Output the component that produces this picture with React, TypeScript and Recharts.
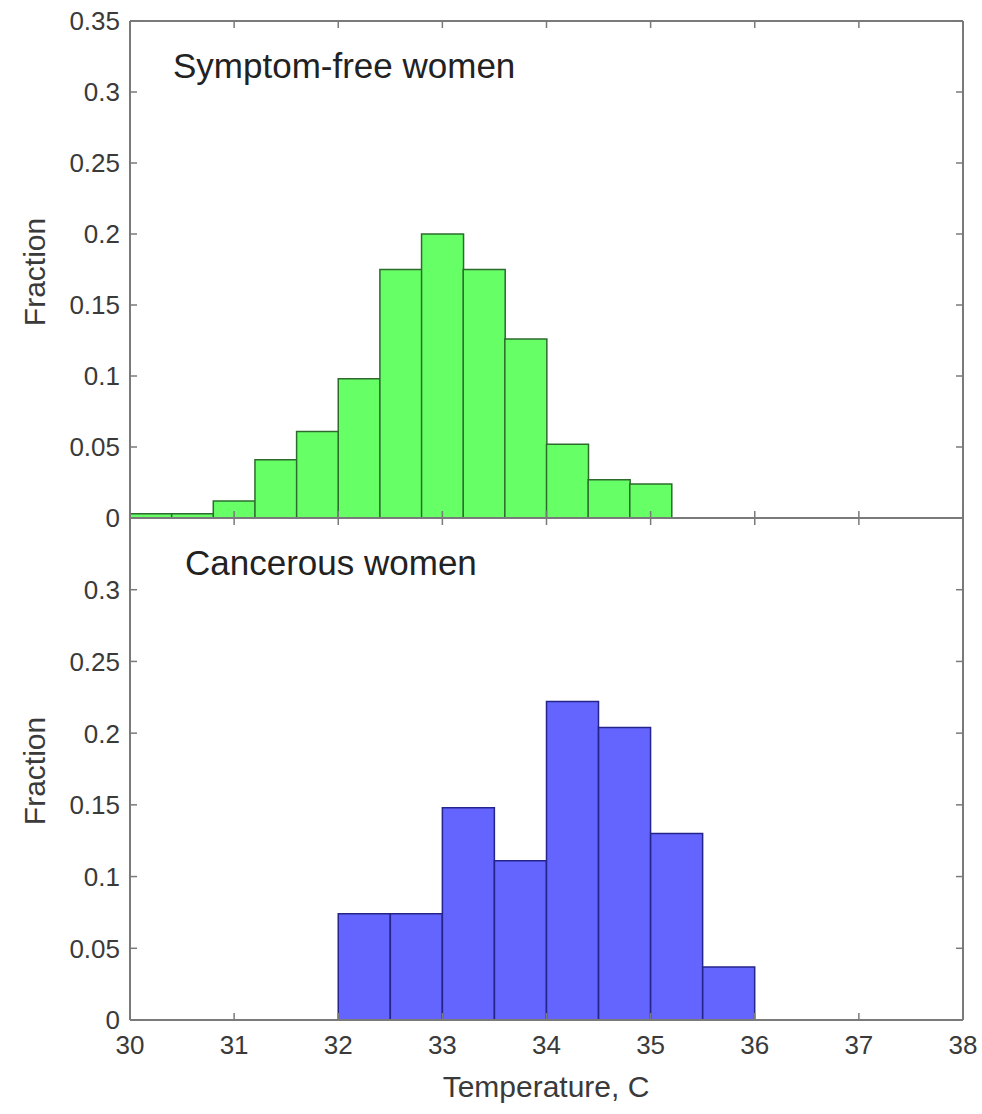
import React from 'react';
import { ComposedChart, Bar, XAxis, YAxis } from 'recharts';

const FONT = '"Liberation Sans", Arial, Helvetica, sans-serif';

// Tick values
const xTicks = [30, 31, 32, 33, 34, 35, 36, 37, 38];
const topYTicks = [0, 0.05, 0.1, 0.15, 0.2, 0.25, 0.3, 0.35];
const bottomYTicks = [0, 0.05, 0.1, 0.15, 0.2, 0.25, 0.3];

// Symptom-free women: bins of 0.4 C from 30 to 38
const greenBinStarts = [30.0, 30.4, 30.8, 31.2, 31.6, 32.0, 32.4, 32.8, 33.2, 33.6, 34.0, 34.4, 34.8, 35.2, 35.6, 36.0, 36.4, 36.8, 37.2, 37.6];
const greenFraction = [0.003, 0.003, 0.012, 0.041, 0.061, 0.098, 0.175, 0.2, 0.175, 0.126, 0.052, 0.027, 0.024, 0, 0, 0, 0, 0, 0, 0];

// Cancerous women: bins of 0.5 C from 30 to 38
const blueBinStarts = [30.0, 30.5, 31.0, 31.5, 32.0, 32.5, 33.0, 33.5, 34.0, 34.5, 35.0, 35.5, 36.0, 36.5, 37.0, 37.5];
const blueFraction = [0, 0, 0, 0, 0.074, 0.074, 0.148, 0.111, 0.222, 0.204, 0.13, 0.037, 0, 0, 0, 0];

const greenData = greenBinStarts.map((s, i) => ({ bin: s.toFixed(1), start: s, fraction: greenFraction[i] }));
const blueData = blueBinStarts.map((s, i) => ({ bin: s.toFixed(1), start: s, fraction: blueFraction[i] }));

const AXIS = '#7a7a7a';
const TEXT = '#3a3a3a';
const TICK_LEN = 7;
const TICK_FONT = 26;
const Y_GAP = 10;
const X_GAP = 16;

const LeftTick = (props: any) => {
  const { x, y, payload } = props;
  return (
    <g>
      <line x1={x + Y_GAP} x2={x + Y_GAP + TICK_LEN} y1={y} y2={y} stroke={AXIS} strokeWidth={1.5} />
      <text x={x} y={y} dy="0.36em" textAnchor="end" fill={TEXT} fontSize={TICK_FONT} fontFamily={FONT}>
        {String(payload.value)}
      </text>
    </g>
  );
};

const RightTick = (props: any) => {
  const { x, y } = props;
  return <line x1={x - TICK_LEN} x2={x} y1={y} y2={y} stroke={AXIS} strokeWidth={1.5} />;
};

const TopTick = (props: any) => {
  const { x, y } = props;
  return <line x1={x} x2={x} y1={y} y2={y + TICK_LEN} stroke={AXIS} strokeWidth={1.5} />;
};

const BottomTickLine = (props: any) => {
  const { x, y } = props;
  return <line x1={x} x2={x} y1={y - X_GAP} y2={y - X_GAP - TICK_LEN} stroke={AXIS} strokeWidth={1.5} />;
};

const BottomTickLabel = (props: any) => {
  const { x, y, payload } = props;
  return (
    <g>
      <line x1={x} x2={x} y1={y - X_GAP} y2={y - X_GAP - TICK_LEN} stroke={AXIS} strokeWidth={1.5} />
      <text x={x} y={y} dy="0.71em" textAnchor="middle" fill={TEXT} fontSize={TICK_FONT} fontFamily={FONT}>
        {String(payload.value)}
      </text>
    </g>
  );
};

type PanelProps = {
  data: { bin: string; start: number; fraction: number }[];
  fill: string;
  stroke: string;
  yTicks: number[];
  bottomLabels: boolean;
  height: number;
  margin: { top: number; right: number; bottom: number; left: number };
};

function Panel({ data, fill, stroke, yTicks, bottomLabels, height, margin }: PanelProps) {
  return (
    <ComposedChart width={982} height={height} data={data} margin={margin} barCategoryGap={0} barGap={0}>
      <XAxis xAxisId="cat" dataKey="bin" type="category" hide />
      <XAxis
        xAxisId="bottom"
        dataKey="start"
        type="number"
        domain={[30, 38]}
        allowDataOverflow
        ticks={xTicks}
        interval={0}
        orientation="bottom"
        height={bottomLabels ? 90 : 1}
        tickSize={0}
        tickMargin={bottomLabels ? X_GAP : X_GAP}
        tickLine={false}
        tick={bottomLabels ? <BottomTickLabel /> : <BottomTickLine />}
        axisLine={{ stroke: AXIS, strokeWidth: 2 }}
      />
      <XAxis
        xAxisId="top"
        dataKey="start"
        type="number"
        domain={[30, 38]}
        allowDataOverflow
        ticks={xTicks}
        interval={0}
        orientation="top"
        height={1}
        tickSize={0}
        tickMargin={0}
        tickLine={false}
        tick={<TopTick />}
        axisLine={{ stroke: AXIS, strokeWidth: 2 }}
      />
      <YAxis
        type="number"
        domain={[0, 0.35]}
        allowDataOverflow
        ticks={yTicks}
        interval={0}
        width={110}
        tickSize={0}
        tickMargin={Y_GAP}
        tickLine={false}
        tick={<LeftTick />}
        axisLine={{ stroke: AXIS, strokeWidth: 2 }}
      />
      <YAxis
        yAxisId="r"
        orientation="right"
        type="number"
        domain={[0, 0.35]}
        allowDataOverflow
        ticks={yTicks}
        interval={0}
        width={1}
        tickSize={0}
        tickMargin={0}
        tickLine={false}
        tick={<RightTick />}
        axisLine={{ stroke: AXIS, strokeWidth: 2 }}
      />
      <Bar xAxisId="cat" dataKey="fraction" fill={fill} stroke={stroke} strokeWidth={1.5} isAnimationActive={false} />
    </ComposedChart>
  );
}

export default function App() {
  return (
    <div style={{ position: 'absolute', left: 0, top: 0, width: 982, height: 1114, background: '#ffffff' }}>
      <div style={{ position: 'absolute', left: 0, top: 0 }}>
        <Panel
          data={greenData}
          fill="#66ff66"
          stroke="#2d6b2d"
          yTicks={topYTicks}
          bottomLabels={false}
          height={545}
          margin={{ top: 20, right: 18, bottom: 26, left: 20 }}
        />
      </div>
      <div style={{ position: 'absolute', left: 0, top: 500 }}>
        <Panel
          data={blueData}
          fill="#6464ff"
          stroke="#24248a"
          yTicks={bottomYTicks}
          bottomLabels={true}
          height={614}
          margin={{ top: 17, right: 18, bottom: 4, left: 20 }}
        />
      </div>
      <svg width={982} height={1114} style={{ position: 'absolute', left: 0, top: 0, pointerEvents: 'none' }}>
        <text x={173} y={78} fontSize={35} fontFamily={FONT} fill="#222">Symptom-free women</text>
        <text x={185} y={575} fontSize={35} fontFamily={FONT} fill="#222">Cancerous women</text>
        <text x={45} y={272} transform="rotate(-90 45 272)" textAnchor="middle" fontSize={30} fontFamily={FONT} fill={TEXT}>Fraction</text>
        <text x={45} y={771} transform="rotate(-90 45 771)" textAnchor="middle" fontSize={30} fontFamily={FONT} fill={TEXT}>Fraction</text>
        <text x={546} y={1097} textAnchor="middle" fontSize={30} fontFamily={FONT} fill={TEXT}>Temperature, C</text>
      </svg>
    </div>
  );
}
